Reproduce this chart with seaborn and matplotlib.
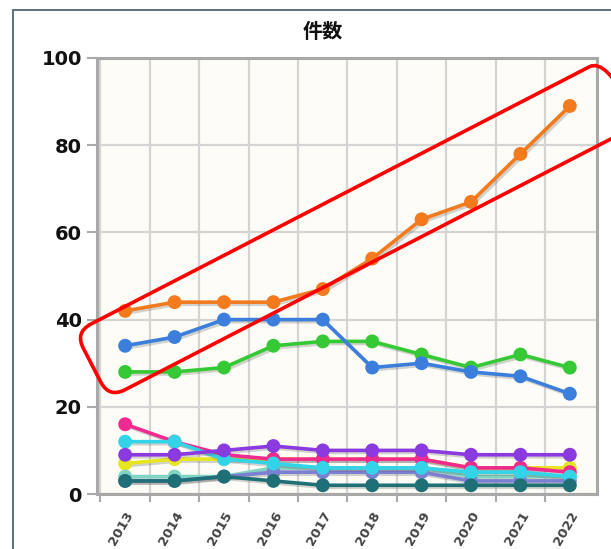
import matplotlib
matplotlib.use("Agg")
import matplotlib.pyplot as plt
import matplotlib.patheffects as pe
from matplotlib.patches import FancyBboxPatch, Rectangle
from matplotlib.transforms import Affine2D
import seaborn as sns
import pandas as pd

years = [2013, 2014, 2015, 2016, 2017, 2018, 2019, 2020, 2021, 2022]

# values
s_yellow = [7, 8, 8, 8, 8, 8, 8, 6, 6, 6]
s_aqua = [4, 4, 4, 6, 6, 6, 6, 4, 4, 4]
s_slate = [3, 3, 4, 5, 5, 5, 5, 3, 3, 3]
s_pink = [16, 12, 9, 8, 8, 8, 8, 6, 6, 5]
s_cyan = [12, 12, 8, 7, 6, 6, 6, 5, 5, 4]
s_purple = [9, 9, 10, 11, 10, 10, 10, 9, 9, 9]
s_teal = [3, 3, 4, 3, 2, 2, 2, 2, 2, 2]
s_green = [28, 28, 29, 34, 35, 35, 32, 29, 32, 29]
s_blue = [34, 36, 40, 40, 40, 29, 30, 28, 27, 23]
s_orange = [42, 44, 44, 44, 47, 54, 63, 67, 78, 89]

names = ["yellow", "aqua", "slate", "pink", "cyan", "purple", "teal", "green", "blue", "orange"]
series = [s_yellow, s_aqua, s_slate, s_pink, s_cyan, s_purple, s_teal, s_green, s_blue, s_orange]
colors = ["#E6E61E", "#80D4C2", "#7C80D2", "#F02A8E", "#34D4E8", "#8A3ADF",
          "#1F7076", "#36C936", "#3B7EDB", "#F47A1E"]

rows = []
for n, vals in zip(names, series):
    for y, v in zip(years, vals):
        rows.append({"year": y, "count": v, "series": n})
df = pd.DataFrame(rows)

sns.set_style("white")
plt.rcParams['font.family'] = ['Noto Sans CJK JP', 'DejaVu Sans']

fig = plt.figure(figsize=(6.11, 5.49), dpi=100)
ax = fig.add_axes([97 / 611, 55 / 549, 500 / 611, 436 / 549])
ax.set_facecolor("#FDFCF6")

sns.lineplot(data=df, x="year", y="count", hue="series", hue_order=names,
             palette=dict(zip(names, colors)), marker="o", markersize=10,
             markeredgewidth=0, linewidth=2.6, legend=False, ax=ax)

for ln in ax.lines:
    ln.set_path_effects([pe.SimpleLineShadow(offset=(1.5, -1.5), alpha=0.25, shadow_color="#555555"),
                         pe.Normal()])
    ln.set_clip_on(False)

ax.set_xlim(2012.43, 2022.55)
ax.set_ylim(0, 100)
ax.set_yticks([0, 20, 40, 60, 80, 100])
ax.set_xticks(years)
ax.set_xticks([y + 0.5 for y in years[:-1]] + [2012.5], minor=True)
ax.set_xticklabels([str(y) for y in years], rotation=60, ha="right",
                   rotation_mode="anchor", fontsize=9.5, fontweight="bold",
                   color="#444444", family="DejaVu Sans")
ax.set_yticklabels([str(v) for v in [0, 20, 40, 60, 80, 100]], fontsize=14,
                   fontweight="bold", color="#111111", family="DejaVu Sans")
ax.tick_params(axis="x", which="major", length=0, pad=11)
ax.tick_params(axis="x", which="minor", length=6, width=1.5, color="#AAAAAA", bottom=True)
ax.tick_params(axis="y", length=7, width=1.5, color="#AAAAAA", left=True, pad=4)
ax.grid(axis="x", which="minor", color="#D4D4D4", linewidth=1.6)
ax.grid(axis="y", which="major", color="#D4D4D4", linewidth=1.6)
ax.set_axisbelow(True)
ax.set_xlabel("")
ax.set_ylabel("")
for sp in ax.spines.values():
    sp.set_color("#A8A8A8")
    sp.set_linewidth(2.2)

fig.text(323 / 611, 1 - 31 / 549, "件数", ha="center", va="center",
         fontsize=14.5, fontweight="bold", color="#111111")

# outer frame
fig.add_artist(Rectangle((13 / 611, -0.2), 1.2, 1.2 - 10 / 549, transform=fig.transFigure,
                         fill=False, edgecolor="#5F6B80", linewidth=1.4))

# red highlight box (pixel units, rotated)
tr = Affine2D().rotate_deg(27.3).translate(109, 151).scale(1 / 100) + fig.dpi_scale_trans
box = FancyBboxPatch((0, 0), 597, 74, boxstyle="round,pad=0,rounding_size=18",
                     transform=tr, fill=False, edgecolor="#FF0000", linewidth=2.6, clip_on=False)
fig.add_artist(box)

fig.savefig("out.png", dpi=100)
